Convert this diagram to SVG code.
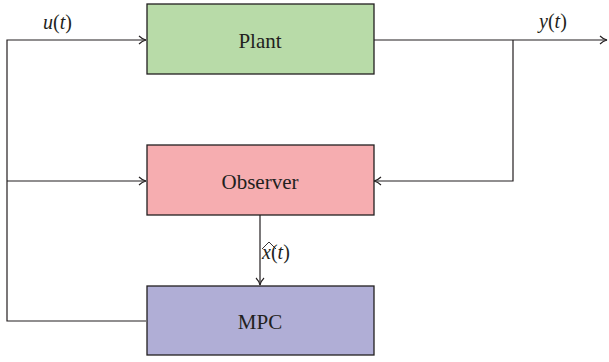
<svg xmlns="http://www.w3.org/2000/svg" width="609" height="362" viewBox="0 0 609 362">
<style>
.box{stroke:#231f20;stroke-width:1.3}
.lbl{font-family:"Liberation Serif",serif;font-size:21px;fill:#231f20;text-anchor:middle}
.math{font-family:"Liberation Serif",serif;font-size:20px;fill:#231f20;font-style:italic}
.wire{fill:none;stroke:#231f20;stroke-width:1.2}
</style>
<defs>
<marker id="arr" viewBox="0 0 10 10" refX="9" refY="5" markerWidth="10" markerHeight="10" markerUnits="userSpaceOnUse" orient="auto">
<path d="M2,1 Q5,4 9,5 Q5,6 2,9" fill="none" stroke="#231f20" stroke-width="1.1"/>
</marker>
</defs>
<rect width="609" height="362" fill="#fff"/>
<g id="connectors">
<path class="wire" d="M146,321 H7 V40 H146" marker-end="url(#arr)"/>
<path class="wire" d="M7,181 H146" marker-end="url(#arr)"/>
<path class="wire" d="M373,40 H607" marker-end="url(#arr)"/>
<path class="wire" d="M513,40 V181 H374" marker-end="url(#arr)"/>
<path class="wire" d="M260,215 V285" marker-end="url(#arr)"/>
<text class="math" x="43" y="29">u<tspan font-style="normal">(</tspan>t<tspan font-style="normal">)</tspan></text>
<text class="math" x="539" y="28">y<tspan font-style="normal">(</tspan>t<tspan font-style="normal">)</tspan></text>
<text class="math" x="262" y="259">x<tspan font-style="normal">(</tspan>t<tspan font-style="normal">)</tspan></text>
<path d="M262,249 L269,242 L276,249" fill="none" stroke="#231f20" stroke-width="0.9"/>
</g>
<g id="plant">
<rect class="box" x="147" y="4" width="227" height="70" fill="#b8dba8"/>
<text class="lbl" x="260" y="48">Plant</text>
</g>
<g id="observer">
<rect class="box" x="147" y="145" width="227" height="70" fill="#f6adb0"/>
<text class="lbl" x="260" y="189">Observer</text>
</g>
<g id="mpc">
<rect class="box" x="147" y="286" width="227" height="69" fill="#b0aed6"/>
<text class="lbl" x="260" y="329">MPC</text>
</g>
</svg>
